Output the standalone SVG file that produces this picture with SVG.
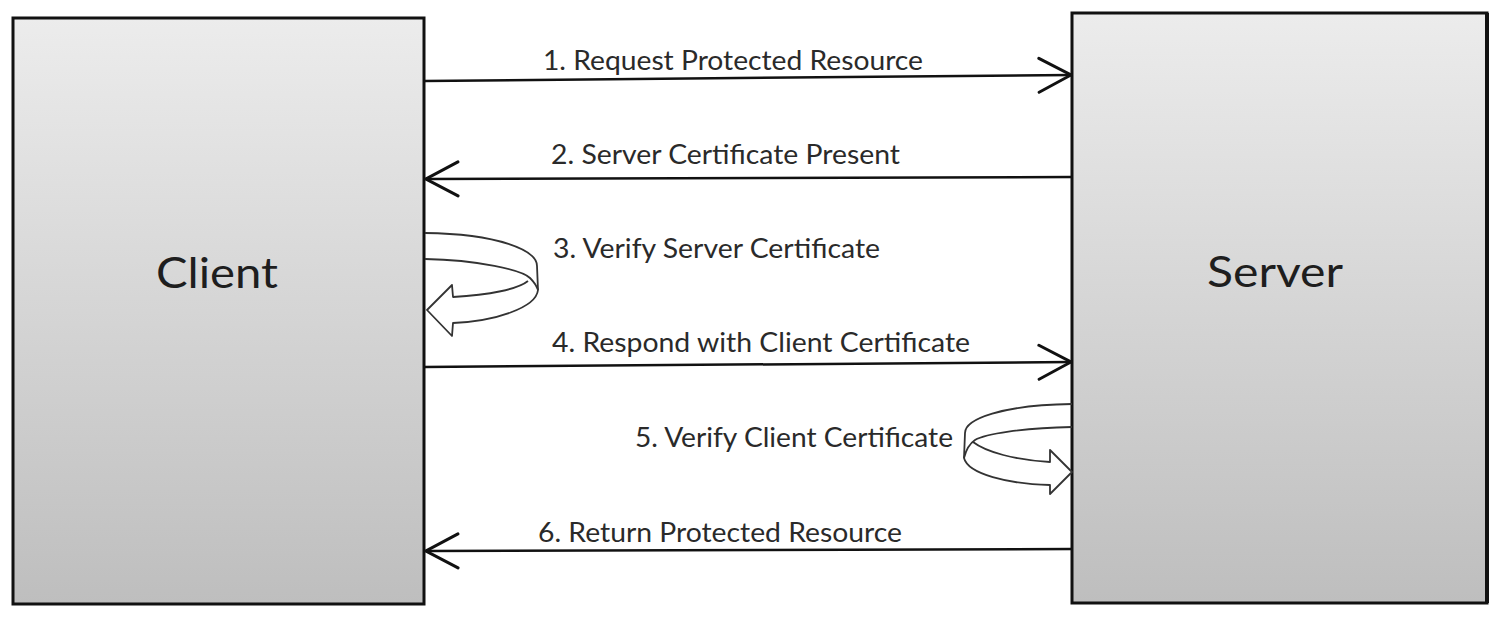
<svg xmlns="http://www.w3.org/2000/svg" width="1504" height="620" viewBox="0 0 1504 620">
  <defs>
    <linearGradient id="boxGrad" x1="0" y1="0" x2="0" y2="1">
      <stop offset="0" stop-color="#ececec"/>
      <stop offset="1" stop-color="#bebebe"/>
    </linearGradient>
    <marker id="arrow" viewBox="-36 -20 38 40" markerWidth="38" markerHeight="40" refX="0" refY="0" orient="auto" markerUnits="userSpaceOnUse">
      <path d="M-32,-17 L0,0 L-32,17" fill="none" stroke="#111" stroke-width="3" stroke-linecap="round" stroke-linejoin="miter"/>
    </marker>
    <style>
      .box { fill: url(#boxGrad); stroke: #111; stroke-width: 3; }
      .node-label { font-family: "Lato", "Open Sans", "Liberation Sans", sans-serif; font-size: 42px; fill: #1e1e1e; text-anchor: middle; }
      .msg { fill: none; stroke: #111; stroke-width: 2.5; marker-end: url(#arrow); }
      .msg-label { font-family: "Lato", "Open Sans", "Liberation Sans", sans-serif; font-size: 26px; fill: #2a2a2a; }
      .uturn { fill: #fff; stroke: #333; stroke-width: 1.8; stroke-linejoin: round; }
      .uturn-line { fill: none; stroke: #333; stroke-width: 1.8; }
    </style>
  </defs>

  <g id="client">
    <rect class="box" x="13" y="18" width="411" height="586"/>
    <text class="node-label" x="217" y="288" textLength="122" lengthAdjust="spacingAndGlyphs">Client</text>
  </g>

  <g id="server">
    <rect class="box" x="1072" y="13" width="415" height="590"/>
    <line x1="1487" y1="13" x2="1487" y2="603" stroke="#111" stroke-width="4"/>
    <text class="node-label" x="1275" y="287" textLength="136" lengthAdjust="spacingAndGlyphs">Server</text>
  </g>

  <g id="connectors">
    <g id="msg1">
      <line class="msg" x1="424" y1="81" x2="1071" y2="75"/>
      <text class="msg-label" x="543" y="70" textLength="380" lengthAdjust="spacingAndGlyphs">1. Request Protected Resource</text>
    </g>
    <g id="msg2">
      <line class="msg" x1="1072" y1="177" x2="426" y2="179"/>
      <text class="msg-label" x="551" y="164" textLength="349" lengthAdjust="spacingAndGlyphs">2. Server Certificate Present</text>
    </g>
    <g id="msg3">
      <path class="uturn" d="M425,233 C498,234 537,250 537,266 L538,290 C536,308 495,321 453,323 L452,336 L427,310 L452,285 L453,297 C490,295 518,289 528,281"/>
      <path class="uturn-line" d="M425,259 C478,260 522,270 530,278 C535,283 537,287 538,290"/>
      <text class="msg-label" x="553" y="258" textLength="327" lengthAdjust="spacingAndGlyphs">3. Verify Server Certificate</text>
    </g>
    <g id="msg4">
      <line class="msg" x1="424" y1="367" x2="1071" y2="362"/>
      <text class="msg-label" x="552" y="352" textLength="418" lengthAdjust="spacingAndGlyphs">4. Respond with Client Certificate</text>
    </g>
    <g id="msg5">
      <path class="uturn" d="M1072,404 C1002,405 965,419 965,433 L964,458 C968,474 1008,484 1050,485 L1050,494 L1072,472 L1050,450 L1050,462 C1015,460 986,452 973,442"/>
      <path class="uturn-line" d="M1072,427 C1022,428 985,434 975,440 C969,444 966,450 964,458"/>
      <text class="msg-label" x="635" y="447" textLength="318" lengthAdjust="spacingAndGlyphs">5. Verify Client Certificate</text>
    </g>
    <g id="msg6">
      <line class="msg" x1="1072" y1="549" x2="426" y2="551"/>
      <text class="msg-label" x="538" y="542" textLength="364" lengthAdjust="spacingAndGlyphs">6. Return Protected Resource</text>
    </g>
  </g>
</svg>
